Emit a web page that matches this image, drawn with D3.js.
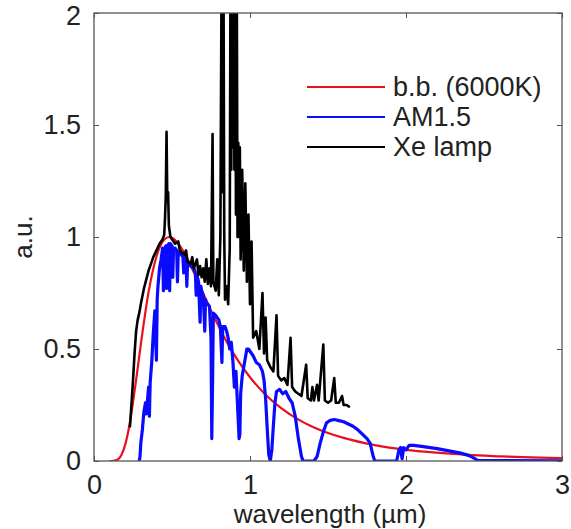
<!DOCTYPE html>
<html lang="en">
<head>
<meta charset="UTF-8">
<title>Spectra: blackbody, AM1.5, Xe lamp</title>
<script src="https://d3js.org/d3.v7.min.js"></script>
<style>
  body { margin: 0; background: #fff; }
  svg { display: block; font-family: "Liberation Sans", Arial, Helvetica, sans-serif; }
  .tick text { font-size: 27px; fill: #222; }
  .tick line { stroke: #555; }
</style>
</head>
<body>
<svg id="chart" width="571" height="529"></svg>
<script>
// tick values
const xTicks = [0, 1, 2, 3];
const yTicks = [0, 0.5, 1, 1.5, 2];

// b.b. (6000K) - [wavelength um, a.u.]
const blackbody = [
  [0.10, 0], [0.125, 0.001], [0.15, 0.006], [0.175, 0.026], [0.2, 0.073], [0.225, 0.152],
  [0.25, 0.262], [0.275, 0.388], [0.3, 0.52], [0.35, 0.755], [0.4, 0.912], [0.45, 0.988],
  [0.483, 1.0], [0.5, 0.997], [0.55, 0.961], [0.6, 0.901], [0.65, 0.826], [0.7, 0.748],
  [0.75, 0.672], [0.8, 0.6], [0.85, 0.533], [0.9, 0.474], [0.95, 0.421], [1.0, 0.374],
  [1.1, 0.296], [1.2, 0.236], [1.3, 0.189], [1.4, 0.153], [1.5, 0.125], [1.6, 0.103],
  [1.8, 0.071], [2.0, 0.05], [2.2, 0.037], [2.4, 0.027], [2.6, 0.021], [2.8, 0.016], [3.0, 0.013]
];

// AM1.5 - [wavelength um, a.u.]
const am15 = [
  [0.29, 0], [0.295, 0.02], [0.30, 0.08], [0.31, 0.14], [0.32, 0.22], [0.33, 0.26], [0.335, 0.21],
  [0.345, 0.29], [0.35, 0.33], [0.355, 0.2], [0.36, 0.35], [0.37, 0.44], [0.38, 0.57],
  [0.39, 0.67], [0.40, 0.45], [0.405, 0.72], [0.41, 0.78], [0.42, 0.86], [0.43, 0.9],
  [0.44, 0.95], [0.445, 0.76], [0.45, 0.94], [0.46, 0.96], [0.465, 0.77], [0.47, 0.96],
  [0.48, 0.97], [0.485, 0.76], [0.49, 0.97], [0.50, 0.96], [0.505, 0.82], [0.51, 0.95],
  [0.52, 0.95], [0.53, 0.94], [0.535, 0.8], [0.54, 0.93], [0.55, 0.93], [0.56, 0.92],
  [0.57, 0.91], [0.575, 0.84], [0.58, 0.91], [0.59, 0.9], [0.595, 0.78], [0.60, 0.89],
  [0.62, 0.87], [0.64, 0.86], [0.65, 0.84], [0.655, 0.74], [0.66, 0.83], [0.67, 0.8],
  [0.68, 0.62], [0.685, 0.78], [0.69, 0.76], [0.70, 0.74], [0.71, 0.58], [0.715, 0.72],
  [0.72, 0.7], [0.73, 0.7], [0.74, 0.69], [0.745, 0.62], [0.75, 0.55], [0.755, 0.1],
  [0.76, 0.35], [0.765, 0.66], [0.78, 0.65], [0.79, 0.64], [0.80, 0.63], [0.81, 0.6],
  [0.82, 0.44], [0.825, 0.6], [0.84, 0.6], [0.85, 0.58], [0.86, 0.55], [0.87, 0.5],
  [0.88, 0.53], [0.89, 0.45], [0.90, 0.33], [0.91, 0.4], [0.92, 0.25], [0.93, 0.1],
  [0.935, 0.12], [0.94, 0.3], [0.95, 0.38], [0.96, 0.42], [0.97, 0.46], [0.98, 0.5],
  [0.99, 0.5], [1.00, 0.49], [1.02, 0.47], [1.04, 0.44], [1.06, 0.43], [1.08, 0.4],
  [1.09, 0.36], [1.10, 0.28], [1.11, 0.15], [1.12, 0.03], [1.13, 0], [1.14, 0.05],
  [1.15, 0.16], [1.16, 0.26], [1.17, 0.31], [1.19, 0.32], [1.21, 0.3], [1.23, 0.31],
  [1.25, 0.28], [1.27, 0.26], [1.29, 0.2], [1.31, 0.1], [1.33, 0.02], [1.34, 0],
  [1.41, 0], [1.43, 0.02], [1.45, 0.08], [1.47, 0.13], [1.49, 0.17], [1.51, 0.18],
  [1.54, 0.185], [1.57, 0.18], [1.60, 0.175], [1.63, 0.165], [1.66, 0.155], [1.69, 0.14],
  [1.72, 0.12], [1.75, 0.1], [1.77, 0.08], [1.79, 0.02], [1.80, 0], [1.94, 0],
  [1.955, 0.05], [1.965, 0.06], [1.975, 0.01], [1.985, 0.06], [2.0, 0.05], [2.02, 0.07],
  [2.05, 0.07], [2.1, 0.065], [2.2, 0.055], [2.3, 0.042], [2.35, 0.035], [2.4, 0.025],
  [2.43, 0.015], [2.46, 0.003], [2.6, 0.002], [3.0, 0.001]
];

// Xe lamp - [wavelength um, a.u.]
const xeLamp = [
  [0.23, 0.15], [0.24, 0.25], [0.25, 0.36], [0.26, 0.48], [0.27, 0.58], [0.28, 0.63],
  [0.29, 0.66], [0.30, 0.7], [0.32, 0.77], [0.35, 0.85], [0.38, 0.91], [0.40, 0.94],
  [0.42, 0.97], [0.44, 0.99], [0.45, 1.01], [0.455, 1.08], [0.46, 1.18], [0.465, 1.47],
  [0.47, 1.16], [0.475, 1.2], [0.48, 1.05], [0.49, 1.0], [0.50, 0.99], [0.52, 0.97],
  [0.54, 0.98], [0.55, 0.94], [0.58, 0.92], [0.59, 0.94], [0.60, 0.89], [0.62, 0.88],
  [0.63, 0.91], [0.64, 0.86], [0.66, 0.9], [0.67, 0.83], [0.68, 0.87], [0.69, 0.82],
  [0.70, 0.86], [0.71, 0.8], [0.72, 0.9], [0.73, 0.79], [0.74, 0.86],
  [0.75, 0.78], [0.76, 1.46], [0.765, 0.8], [0.78, 0.76], [0.79, 0.9], [0.80, 0.74],
  [0.81, 1.0], [0.818, 2.2], [0.825, 1.2], [0.83, 2.2], [0.835, 1.0], [0.84, 0.72],
  [0.85, 0.78], [0.86, 0.7], [0.87, 0.95], [0.875, 2.2], [0.88, 1.3], [0.885, 2.2],
  [0.89, 1.4], [0.895, 2.2], [0.90, 1.3], [0.905, 2.2], [0.91, 1.1], [0.915, 2.2],
  [0.92, 1.0], [0.925, 1.42], [0.93, 1.0], [0.935, 1.4], [0.94, 0.9], [0.95, 1.3],
  [0.96, 0.85], [0.97, 1.24], [0.98, 0.8], [0.99, 1.1], [1.00, 0.7], [1.01, 0.98],
  [1.02, 0.55], [1.04, 0.58], [1.06, 0.5], [1.08, 0.75], [1.09, 0.48], [1.10, 0.64],
  [1.11, 0.45], [1.13, 0.42], [1.15, 0.4], [1.17, 0.65], [1.18, 0.38], [1.20, 0.36],
  [1.22, 0.37], [1.24, 0.34], [1.26, 0.55], [1.27, 0.33], [1.29, 0.31], [1.31, 0.3],
  [1.33, 0.29], [1.36, 0.43], [1.37, 0.28], [1.39, 0.27], [1.40, 0.33], [1.41, 0.27],
  [1.43, 0.34], [1.44, 0.27], [1.47, 0.52], [1.48, 0.27], [1.50, 0.26], [1.52, 0.27],
  [1.54, 0.37], [1.55, 0.26], [1.57, 0.26], [1.59, 0.29], [1.60, 0.25], [1.62, 0.25],
  [1.64, 0.24]
];

const series = [
  { name: "b.b. (6000K)", data: blackbody, color: "#e8101c", width: 2.2, curve: d3.curveMonotoneX },
  { name: "AM1.5", data: am15, color: "#0a0aff", width: 3.2, curve: d3.curveLinear },
  { name: "Xe lamp", data: xeLamp, color: "#000", width: 2.6, curve: d3.curveLinear }
];

const margin = { left: 94, right: 9, top: 13, bottom: 68 };
const width = 571, height = 529;
const svg = d3.select("#chart");

const x = d3.scaleLinear().domain([0, 3]).range([margin.left, width - margin.right]);
const y = d3.scaleLinear().domain([0, 2]).range([height - margin.bottom, margin.top]);

svg.append("clipPath").attr("id", "clip")
  .append("rect")
  .attr("x", margin.left).attr("y", margin.top)
  .attr("width", x(3) - x(0)).attr("height", y(0) - y(2));

const lines = svg.append("g").attr("clip-path", "url(#clip)");
series.forEach(s => {
  lines.append("path")
    .datum(s.data)
    .attr("fill", "none")
    .attr("stroke", s.color)
    .attr("stroke-width", s.width)
    .attr("stroke-linejoin", "round")
    .attr("d", d3.line().x(d => x(d[0])).y(d => y(d[1])).curve(s.curve));
});

// axes: ticks pointing inward on all sides
svg.append("g")
  .attr("transform", `translate(0,${y(0)})`)
  .call(d3.axisBottom(x).tickValues(xTicks).tickFormat(d3.format("d")).tickSize(-5).tickPadding(14))
  .call(g => g.select(".domain").remove());
svg.append("g")
  .attr("transform", `translate(0,${y(2)})`)
  .call(d3.axisTop(x).tickValues(xTicks).tickFormat("").tickSize(-5))
  .call(g => g.select(".domain").remove());
svg.append("g")
  .attr("transform", `translate(${x(0)},0)`)
  .call(d3.axisLeft(y).tickValues(yTicks).tickFormat(d => String(d)).tickSize(-5).tickPadding(13))
  .call(g => g.select(".domain").remove())
  .call(g => g.selectAll(".tick text").filter(d => d === 2).attr("dy", "0.42em"));
svg.append("g")
  .attr("transform", `translate(${x(3)},0)`)
  .call(d3.axisRight(y).tickValues(yTicks).tickFormat("").tickSize(-5))
  .call(g => g.select(".domain").remove());

svg.append("rect")
  .attr("x", x(0)).attr("y", y(2))
  .attr("width", x(3) - x(0)).attr("height", y(0) - y(2))
  .attr("fill", "none").attr("stroke", "#555").attr("stroke-width", 1.3);

// axis titles
svg.append("text")
  .attr("x", (x(0) + x(3)) / 2 + 2).attr("y", 523)
  .attr("text-anchor", "middle")
  .attr("font-size", 26).attr("fill", "#222")
  .text("wavelength (\u00b5m)");
svg.append("text")
  .attr("transform", `translate(32,${y(1)}) rotate(-90)`)
  .attr("text-anchor", "middle")
  .attr("font-size", 26).attr("fill", "#222")
  .text("a.u.");

// legend
const legend = svg.append("g");
series.forEach((s, i) => {
  const ly = 87 + i * 30;
  legend.append("line")
    .attr("x1", 307).attr("x2", 385).attr("y1", ly).attr("y2", ly)
    .attr("stroke", s.color).attr("stroke-width", 2.2);
  legend.append("text")
    .attr("x", 393).attr("y", ly).attr("dy", "0.35em")
    .attr("font-size", 27).attr("fill", "#222")
    .text(s.name);
});
</script>
</body>
</html>
